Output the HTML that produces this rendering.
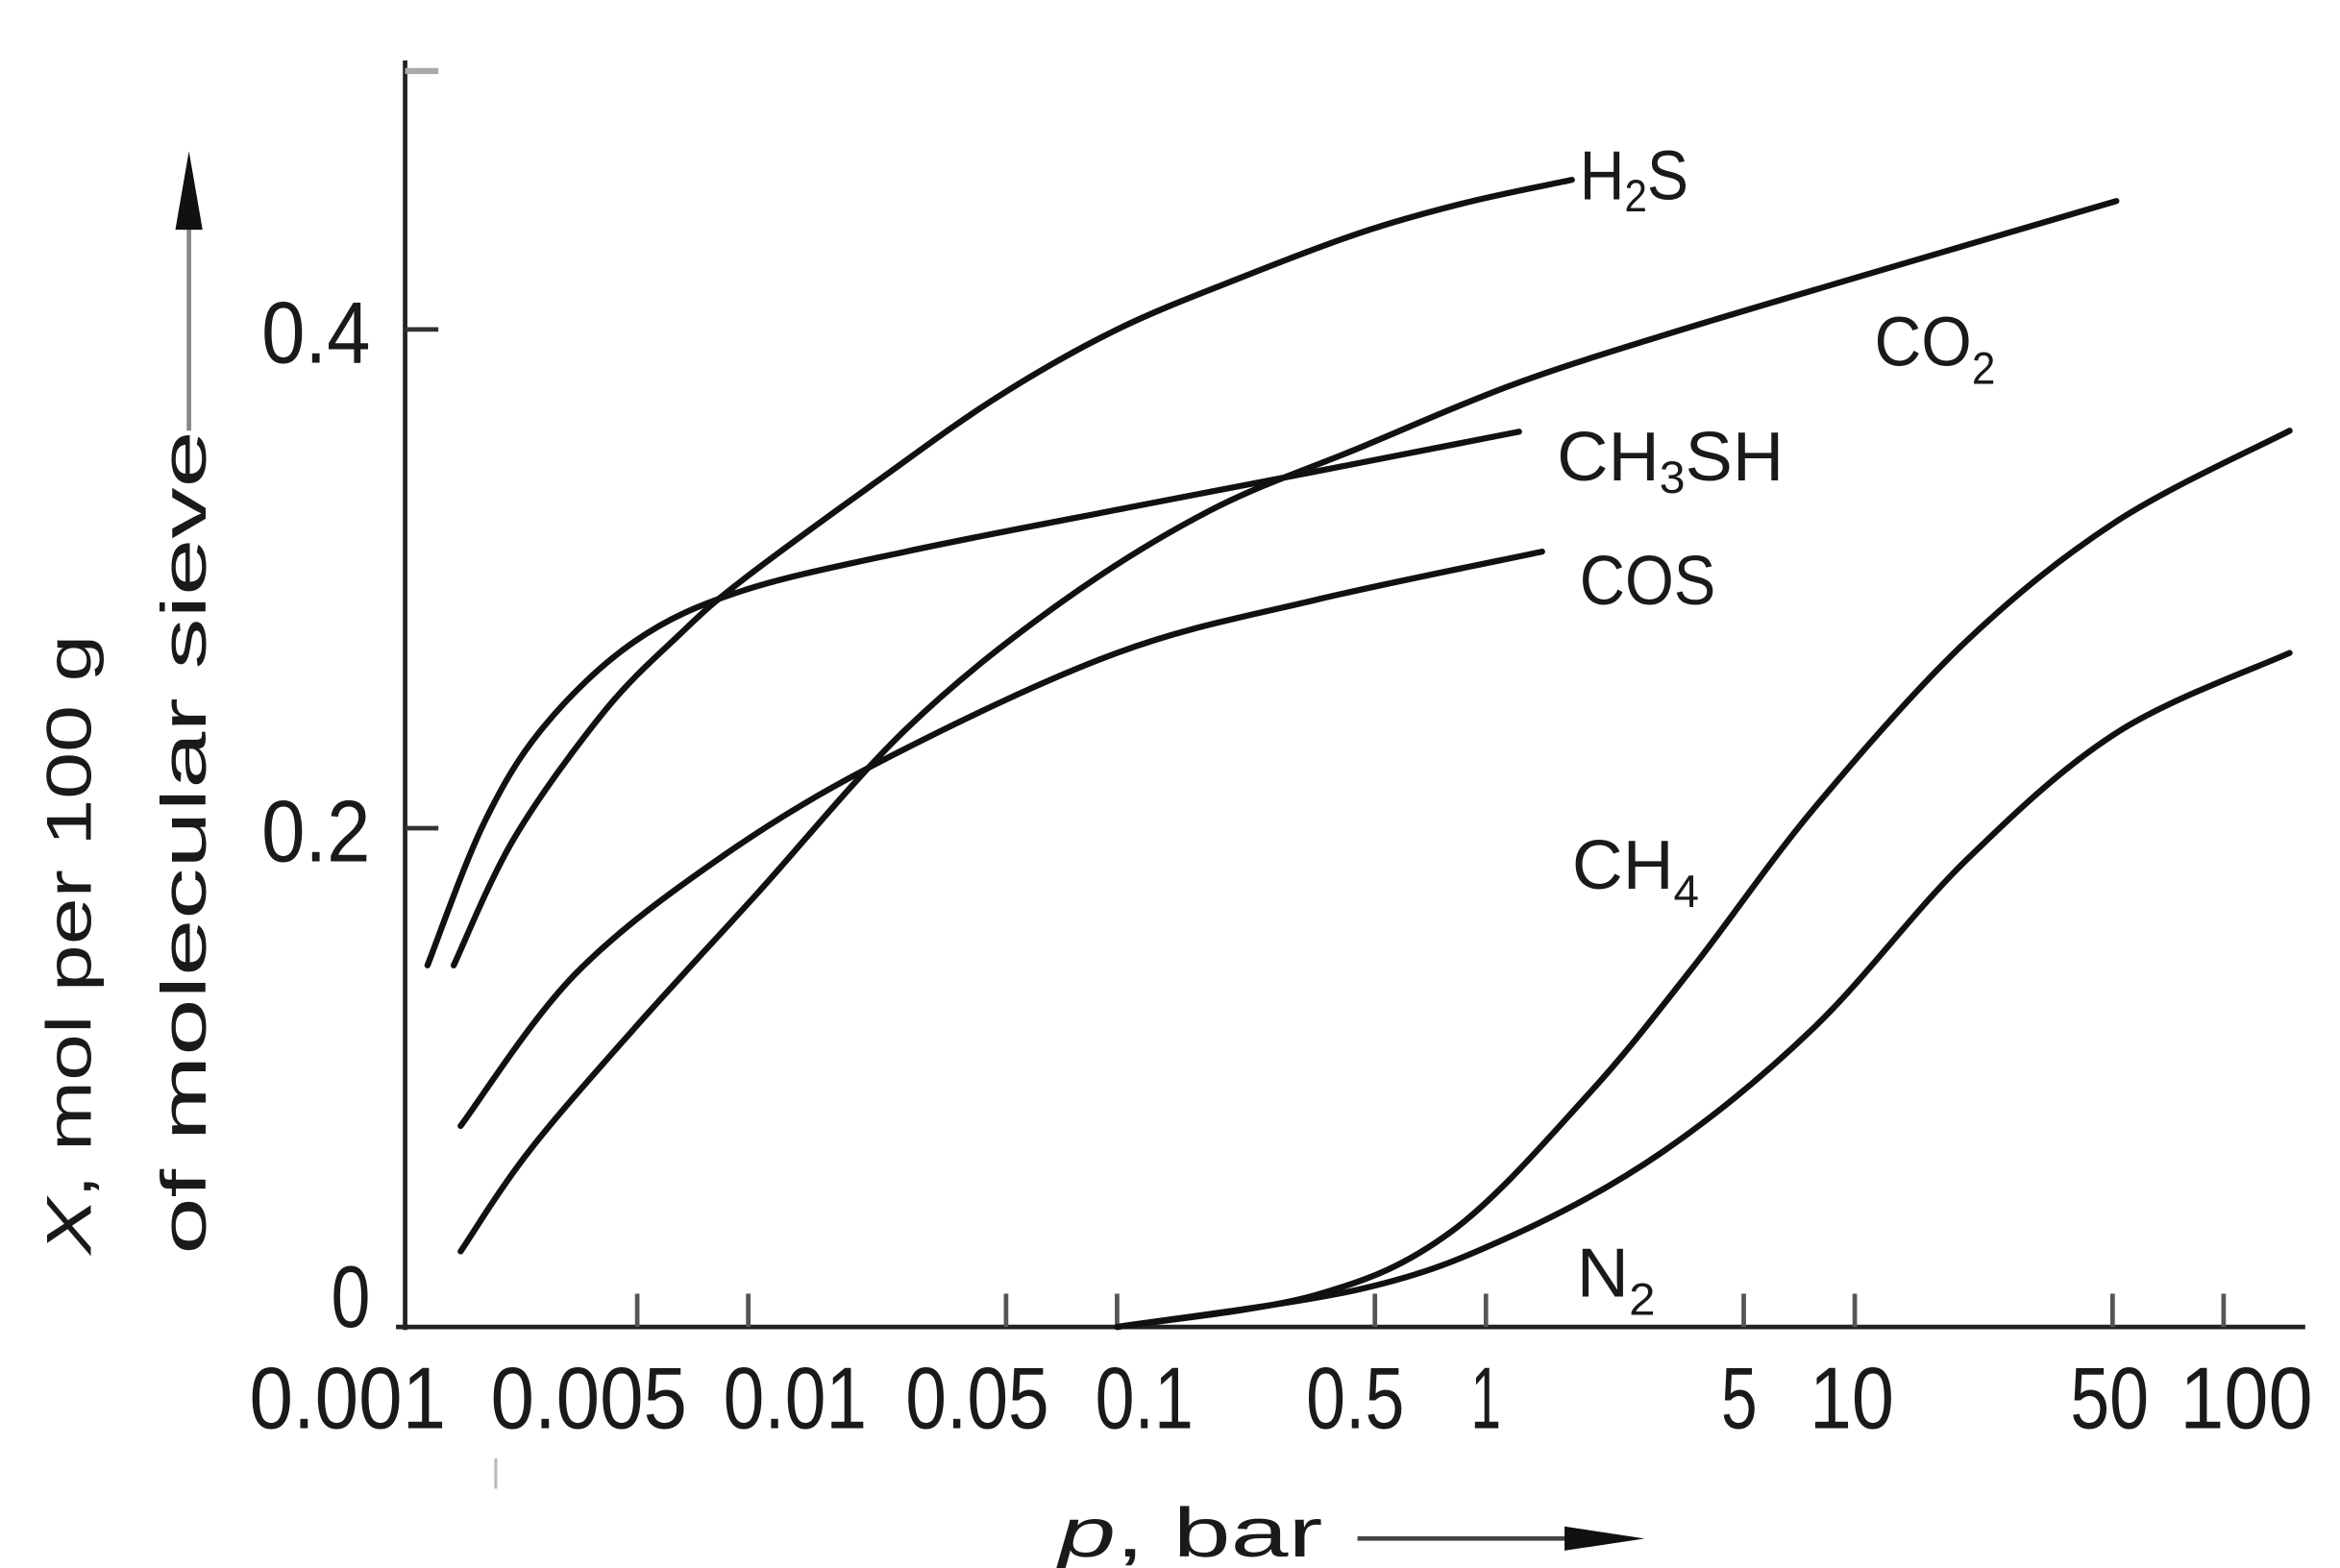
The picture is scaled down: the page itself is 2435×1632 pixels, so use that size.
<!DOCTYPE html>
<html><head><meta charset="utf-8">
<style>
html,body{margin:0;padding:0;background:#fff;}
svg{display:block;}
text{font-family:"Liberation Sans",sans-serif;fill:#1a1a1a;}
</style></head>
<body>
<svg id="chart" width="2435" height="1632" viewBox="0 0 1548 1037.5" preserveAspectRatio="none" xmlns="http://www.w3.org/2000/svg">
<rect width="1548" height="1037.5" fill="#fff"/>
<g id="axes">
  <line x1="268" y1="40" x2="268" y2="880" stroke="#222" stroke-width="3"/>
  <line x1="262" y1="878" x2="1525" y2="878" stroke="#222" stroke-width="3"/>
  <line x1="268" y1="47" x2="290" y2="47" stroke="#aaa" stroke-width="4"/>
  <line x1="328" y1="965" x2="328" y2="985" stroke="#bbb" stroke-width="2"/>
</g>
<g id="ticks"></g>
<g id="curves"></g>
<g id="labels" font-size="46">
  <text x="1045" y="132" textLength="72" lengthAdjust="spacingAndGlyphs">H<tspan font-size="30" dy="8">2</tspan><tspan dy="-8">S</tspan></text>
  <text x="1240" y="242" textLength="80" lengthAdjust="spacingAndGlyphs">CO<tspan font-size="30" dy="12">2</tspan></text>
  <text x="1030" y="318" textLength="150" lengthAdjust="spacingAndGlyphs">CH<tspan font-size="30" dy="8">3</tspan><tspan dy="-8">SH</tspan></text>
  <text x="1045" y="400" textLength="90" lengthAdjust="spacingAndGlyphs">COS</text>
  <text x="1040" y="588" textLength="84" lengthAdjust="spacingAndGlyphs">CH<tspan font-size="30" dy="12">4</tspan></text>
  <text x="1043" y="858" textLength="52" lengthAdjust="spacingAndGlyphs">N<tspan font-size="30" dy="12">2</tspan></text>
</g>
<g id="y-title" font-size="42">
  <text transform="translate(60,830) rotate(-90)" textLength="410" lengthAdjust="spacingAndGlyphs"><tspan font-style="italic">X</tspan>, mol per 100 g</text>
  <text transform="translate(136,830) rotate(-90)" textLength="545" lengthAdjust="spacingAndGlyphs">of molecular sieve</text>
  <line x1="125" y1="285" x2="125" y2="140" stroke="#888" stroke-width="3"/>
  <polygon points="125,100 116,152 134,152" fill="#111"/>
</g>
<g id="x-title">
  <text x="700" y="1030" font-size="46" textLength="175" lengthAdjust="spacingAndGlyphs"><tspan font-style="italic">p</tspan>,  bar</text>
  <line x1="898" y1="1018" x2="1040" y2="1018" stroke="#444" stroke-width="3"/>
  <polygon points="1088,1018 1035,1010 1035,1026" fill="#111"/>
</g>
</svg>
<script>
// Axis tick data
const xTickValues = [0.005, 0.01, 0.05, 0.1, 0.5, 1, 5, 10, 50, 100];
const xLabelValues = [0.001, 0.005, 0.01, 0.05, 0.1, 0.5, 1, 5, 10, 50, 100];
const xLabelText = ["0.001", "0.005", "0.01", "0.05", "0.1", "0.5", "1", "5", "10", "50", "100"];
const yTickValues = [0, 0.2, 0.4];
const yLabelText = ["0", "0.2", "0.4"];
// Series data: pressure (bar), loading X (mol/100 g)
const h2sP = [0.00159, 0.00232, 0.00408, 0.00655, 0.00955, 0.0223, 0.0475, 0.1, 0.215, 0.457, 0.885, 1.71];
const h2sX = [0.145, 0.196, 0.247, 0.278, 0.299, 0.339, 0.373, 0.400, 0.4206, 0.4388, 0.4509, 0.460];
const ch3shP = [0.00135, 0.00192, 0.0028, 0.00493, 0.00955, 0.0269, 0.111, 0.344, 1.23];
const ch3shX = [0.145, 0.202, 0.241, 0.275, 0.295, 0.311, 0.329, 0.343, 0.359];
const co2P = [0.00166, 0.00254, 0.00493, 0.0105, 0.0269, 0.0692, 0.178, 0.457, 1.17, 3.02, 10.3, 51.2];
const co2X = [0.0303, 0.0703, 0.120, 0.1733, 0.240, 0.2897, 0.3273, 0.3527, 0.3776, 0.3976, 0.4212, 0.4515];
const cosP = [0.00166, 0.00338, 0.0087, 0.0245, 0.1, 0.344, 1.42];
const cosX = [0.0806, 0.1412, 0.1897, 0.2291, 0.2703, 0.2915, 0.3109];
const ch4P = [0.1, 0.344, 0.805, 1.88, 3.64, 7.75, 19.9, 51.2, 151];
const ch4X = [0, 0.0127, 0.0382, 0.0927, 0.1442, 0.2079, 0.2745, 0.323, 0.3594];
const n2P = [0.1, 0.457, 1.17, 3.02, 7.75, 19.9, 51.2, 151];
const n2X = [0, 0.0152, 0.0364, 0.0703, 0.120, 0.1867, 0.2382, 0.2703];

const NS = "http://www.w3.org/2000/svg";
function xScale(p){ return 739 + 244 * Math.log10(p / 0.1); }
function yScale(v){ return 878 - v * 1650; }
// label layout tweaks (pixel offsets from tick, and widths) - styling only
const xLabelShift = [-21, -32, 31, -19, 18, -13, 0, -3, -2, -2, 15];
const xLabelWidth = [130, 130, 95, 95, 65, 65, 20, 24, 56, 52, 88];

const ticks = document.getElementById('ticks');
xTickValues.forEach(v => {
  const l = document.createElementNS(NS, 'line');
  l.setAttribute('x1', xScale(v)); l.setAttribute('x2', xScale(v));
  l.setAttribute('y1', 856); l.setAttribute('y2', 878);
  l.setAttribute('stroke', '#555'); l.setAttribute('stroke-width', 3);
  
  
  ticks.appendChild(l);
});
xLabelValues.forEach((v, i) => {
  const t = document.createElementNS(NS, 'text');
  const cx = xScale(v) + xLabelShift[i];
  t.setAttribute('x', cx - xLabelWidth[i] / 2); t.setAttribute('y', 945);
  t.setAttribute('font-size', 58);
  t.setAttribute('textLength', xLabelWidth[i]);
  t.setAttribute('lengthAdjust', 'spacingAndGlyphs');
  t.textContent = xLabelText[i];
  
  
  ticks.appendChild(t);
});
yTickValues.forEach((v, i) => {
  if (v > 0) {
    const l = document.createElementNS(NS, 'line');
    l.setAttribute('x1', 268); l.setAttribute('x2', 290);
    l.setAttribute('y1', yScale(v)); l.setAttribute('y2', yScale(v));
    l.setAttribute('stroke', '#333'); l.setAttribute('stroke-width', 3);
    
    
    ticks.appendChild(l);
  }
  const t = document.createElementNS(NS, 'text');
  const w = v === 0 ? 26 : 72;
  t.setAttribute('x', 245 - w); t.setAttribute('y', yScale(v) + (v === 0 ? 0 : 22));
  t.setAttribute('font-size', 58);
  t.setAttribute('textLength', w);
  t.setAttribute('lengthAdjust', 'spacingAndGlyphs');
  t.textContent = yLabelText[i];
  
  
  ticks.appendChild(t);
});

function smoothPath(P, X){
  const pts = P.map((p, i) => [xScale(p), yScale(X[i])]);
  let d = 'M' + pts[0][0] + ',' + pts[0][1];
  for (let i = 0; i < pts.length - 1; i++) {
    const p0 = pts[Math.max(0, i - 1)], p1 = pts[i], p2 = pts[i + 1], p3 = pts[Math.min(pts.length - 1, i + 2)];
    const c1x = p1[0] + (p2[0] - p0[0]) / 6, c1y = p1[1] + (p2[1] - p0[1]) / 6;
    const c2x = p2[0] - (p3[0] - p1[0]) / 6, c2y = p2[1] - (p3[1] - p1[1]) / 6;
    d += ' C' + c1x + ',' + c1y + ' ' + c2x + ',' + c2y + ' ' + p2[0] + ',' + p2[1];
  }
  return d;
}
const curves = document.getElementById('curves');
function addCurve(P, X, name){
  const path = document.createElementNS(NS, 'path');
  path.setAttribute('d', smoothPath(P, X));
  path.setAttribute('fill', 'none'); path.setAttribute('stroke', '#111');
  path.setAttribute('stroke-width', 4); path.setAttribute('stroke-linecap', 'round');
  
  
  curves.appendChild(path);
}
addCurve(h2sP, h2sX, 'h2s-curve');
addCurve(ch3shP, ch3shX, 'ch3sh-curve');
addCurve(co2P, co2X, 'co2-curve');
addCurve(cosP, cosX, 'cos-curve');
addCurve(ch4P, ch4X, 'ch4-curve');
addCurve(n2P, n2X, 'n2-curve');
</script>
</body></html>
